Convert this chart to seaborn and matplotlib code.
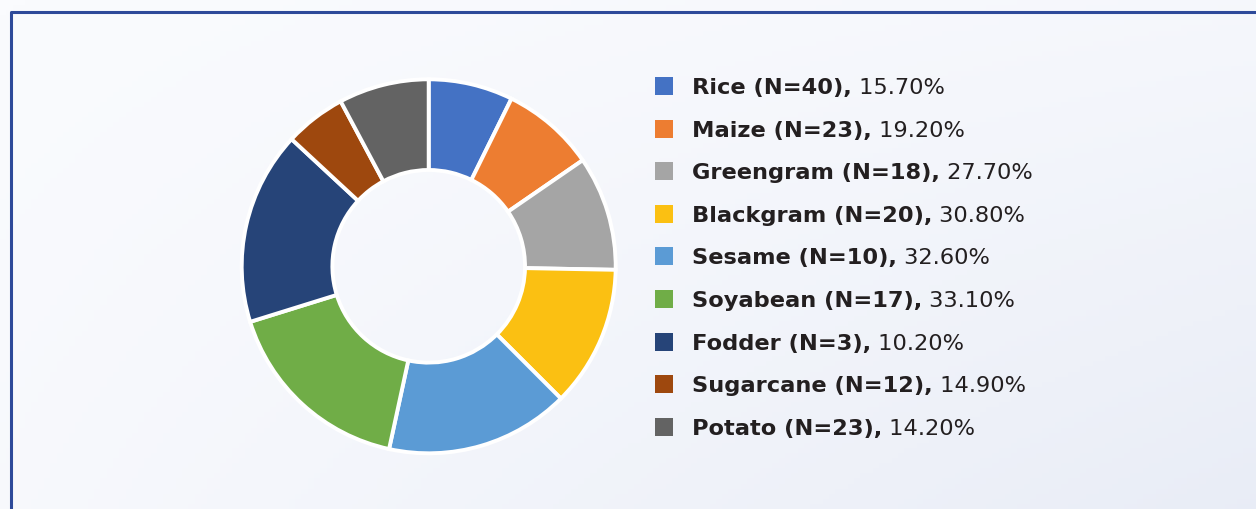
import numpy as np
import matplotlib
matplotlib.use("Agg")
import matplotlib.pyplot as plt
from matplotlib.patches import Rectangle
import seaborn as sns

# Data
crops = ["Rice", "Maize", "Greengram", "Blackgram", "Sesame",
         "Soyabean", "Fodder", "Sugarcane", "Potato"]
n_counts = [40, 23, 18, 20, 10, 17, 3, 12, 23]
shares = [15.70, 19.20, 27.70, 30.80, 32.60, 33.10, 10.20, 14.90, 14.20]
# slice sizes as drawn in the ring (percent of the circle)
ring_sizes = [7.3, 8.1, 9.9, 12.2, 15.9, 16.8, 16.7, 5.3, 7.8]
colors = ["#4472C4", "#ED7D31", "#A5A5A5", "#FBC012", "#5B9BD5",
          "#70AD47", "#264478", "#9E480E", "#636363"]

sns.set_theme(style="white")
plt.rcParams['font.family'] = ['DejaVu Sans']
palette = sns.color_palette(colors)

W, H = 1256, 509
fig = plt.figure(figsize=(W / 100, H / 100), dpi=100)

# soft gradient background
bg = fig.add_axes([0, 0, 1, 1], zorder=-10)
gx, gy = np.meshgrid(np.linspace(0, 1, 200), np.linspace(0, 1, 100))
grad = 0.25 * gx + 0.55 * gy * gx + 0.15 * gy
bg.imshow(grad, cmap=sns.blend_palette(["#FAFBFE", "#E8ECF6"], as_cmap=True),
          aspect="auto", extent=[0, 1, 0, 1], origin="upper", vmin=0, vmax=1)
bg.plot([10.5 / W, 10.5 / W, 1.01], [-0.01, 1 - 11.5 / H, 1 - 11.5 / H],
        color="#2E4A9A", lw=2.2, transform=bg.transAxes, clip_on=False)
bg.set_xlim(0, 1)
bg.set_ylim(0, 1)
bg.set_axis_off()

# donut
cx, cy, R = 428.7, 266.3, 187
ax = fig.add_axes([(cx - R) / W, 1 - (cy + R) / H, 2 * R / W, 2 * R / H])
ax.pie(ring_sizes, colors=palette, startangle=90, counterclock=False,
       radius=1.0,
       wedgeprops=dict(width=0.485, edgecolor="white", linewidth=2.8))
ax.set_aspect("equal")
ax.set_xlim(-1, 1)
ax.set_ylim(-1, 1)
ax.set_axis_off()

# legend
fs = 16.2
for i, (crop, n, pct, col) in enumerate(zip(crops, n_counts, shares, palette)):
    y = 86 + i * 42.6
    fig.patches.append(Rectangle((655 / W, 1 - (y + 9) / H), 18 / W, 18 / H,
                                 transform=fig.transFigure, facecolor=col,
                                 edgecolor="none"))
    t = fig.text(692 / W, 1 - y / H, f"{crop} (N={n}),", fontsize=fs,
                 fontweight="bold", color="#231F20", va="center_baseline")
    ax.annotate(f" {pct:.2f}%", xy=(1, 0), xycoords=t, xytext=(0, 0),
                textcoords="offset points", fontsize=fs, color="#231F20",
                va="bottom", ha="left", annotation_clip=False)

fig.savefig("out.png", dpi=100)
